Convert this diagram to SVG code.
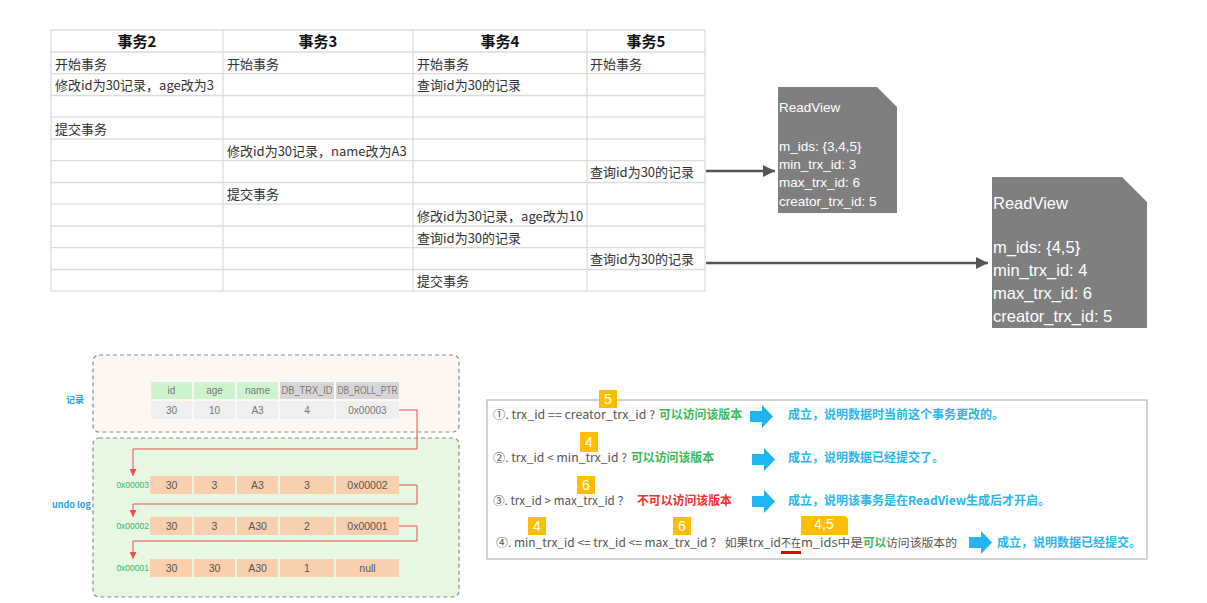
<svg xmlns="http://www.w3.org/2000/svg" xmlns:xlink="http://www.w3.org/1999/xlink" width="1207" height="603" viewBox="0 0 1207 603">
<style>
.grid{stroke:#dcdcdc;stroke-width:1.3;fill:none}
.th{font-family:"Noto Sans CJK SC","Liberation Sans",sans-serif;font-size:15px;font-weight:bold;fill:#111;text-anchor:middle}
.td{font-family:"Noto Sans CJK SC","Liberation Sans",sans-serif;font-size:13px;fill:#333}
.rv{fill:#7f7f7f}
.rvt{font-family:"Liberation Sans","Noto Sans",sans-serif;fill:#fff}
.darr{stroke:#555;stroke-width:2.5;fill:none}
.dash{stroke:#8a8a8a;stroke-width:1.2;stroke-dasharray:4 3}
.cellg{fill:#cdf5cd}
.cellh{fill:#d6d6d6}
.cellr{fill:#efefef}
.cellu{fill:#f9cfad}
.ct{font-family:"Liberation Sans","Noto Sans",sans-serif;font-size:10px;fill:#777;text-anchor:middle}
.cu{font-family:"Liberation Sans","Noto Sans",sans-serif;font-size:10.5px;fill:#555;text-anchor:middle}
.addr{font-family:"Liberation Sans","Noto Sans",sans-serif;font-size:8.5px;fill:#3cb465;text-anchor:end}
.lbl{font-family:"Noto Sans CJK SC","Liberation Sans",sans-serif;font-size:9px;font-weight:bold;fill:#1fa3e8}
.red{stroke:#f24b4b;stroke-width:1;fill:none}
.rt{font-family:"Noto Sans CJK SC","Liberation Sans",sans-serif;font-size:11.5px;fill:#555}
.gr{font-family:"Noto Sans CJK SC",sans-serif;font-size:12px;font-weight:bold;fill:#3cba5a}
.rd{font-family:"Noto Sans CJK SC",sans-serif;font-size:12px;font-weight:bold;fill:#f23030}
.bl{font-family:"Noto Sans CJK SC",sans-serif;font-size:12px;font-weight:bold;fill:#2cb5ef}
.badge{fill:#ffbf00}
.bt{font-family:"Liberation Sans","Noto Sans",sans-serif;font-size:14px;fill:#fff;text-anchor:middle}
.barrow{fill:#1fb4f2}
</style>
<defs>
<marker id="ah" viewBox="0 0 10 10" refX="10" refY="5" markerWidth="5" markerHeight="5" orient="auto" markerUnits="strokeWidth">
<path d="M0,0 L10,5 L0,10 Z" fill="#555"/>
</marker>
<marker id="rah" viewBox="0 0 10 10" refX="10" refY="5" markerWidth="7" markerHeight="7" orient="auto" markerUnits="strokeWidth">
<path d="M0,0 L10,5 L0,10 Z" fill="#f24b4b"/>
</marker>
<path id="blk" d="M0,6 H12 V0 L23,11.5 L12,23 V17 H0 Z"/>
</defs>
<rect width="1207" height="603" fill="#fff"/>

<g id="table">
<g class="grid">
<line x1="51" y1="30" x2="705" y2="30"/>
<line x1="51" y1="52" x2="705" y2="52"/>
<line x1="51" y1="73.7" x2="705" y2="73.7"/>
<line x1="51" y1="95.5" x2="705" y2="95.5"/>
<line x1="51" y1="117.2" x2="705" y2="117.2"/>
<line x1="51" y1="139" x2="705" y2="139"/>
<line x1="51" y1="160.7" x2="705" y2="160.7"/>
<line x1="51" y1="182.5" x2="705" y2="182.5"/>
<line x1="51" y1="204.2" x2="705" y2="204.2"/>
<line x1="51" y1="226" x2="705" y2="226"/>
<line x1="51" y1="247.7" x2="705" y2="247.7"/>
<line x1="51" y1="269.5" x2="705" y2="269.5"/>
<line x1="51" y1="291.2" x2="705" y2="291.2"/>
<line x1="51" y1="30" x2="51" y2="291.2"/>
<line x1="223" y1="30" x2="223" y2="291.2"/>
<line x1="413" y1="30" x2="413" y2="291.2"/>
<line x1="587" y1="30" x2="587" y2="291.2"/>
<line x1="705" y1="30" x2="705" y2="291.2"/>
</g>
<text class="th" x="137" y="47">事务2</text>
<text class="th" x="318" y="47">事务3</text>
<text class="th" x="500" y="47">事务4</text>
<text class="th" x="646" y="47">事务5</text>
<text class="td" x="55" y="68.5">开始事务</text>
<text class="td" x="227" y="68.5">开始事务</text>
<text class="td" x="417" y="68.5">开始事务</text>
<text class="td" x="590" y="68.5">开始事务</text>
<text class="td" x="55" y="90.2">修改id为30记录，age改为3</text>
<text class="td" x="417" y="90.2">查询id为30的记录</text>
<text class="td" x="55" y="133.7">提交事务</text>
<text class="td" x="227" y="155.5">修改id为30记录，name改为A3</text>
<text class="td" x="590" y="177.2">查询id为30的记录</text>
<text class="td" x="227" y="199">提交事务</text>
<text class="td" x="417" y="220.7">修改id为30记录，age改为10</text>
<text class="td" x="417" y="242.5">查询id为30的记录</text>
<text class="td" x="590" y="264.2">查询id为30的记录</text>
<text class="td" x="417" y="286">提交事务</text>
</g>

<g id="readview1">
<path class="rv" d="M778,87 H877 L897,107 V213 H778 Z"/>
<text class="rvt" font-size="13.5" x="779" y="112">ReadView</text>
<text class="rvt" font-size="13.5" x="779" y="151">m_ids: {3,4,5}</text>
<text class="rvt" font-size="13.5" x="779" y="169">min_trx_id: 3</text>
<text class="rvt" font-size="13.5" x="779" y="187">max_trx_id: 6</text>
<text class="rvt" font-size="13.5" x="779" y="206">creator_trx_id: 5</text>
</g>

<g id="readview2">
<path class="rv" d="M992,177 H1122 L1147,202 V328 H992 Z"/>
<text class="rvt" font-size="16.5" x="993" y="209">ReadView</text>
<text class="rvt" font-size="16.5" x="993" y="253">m_ids: {4,5}</text>
<text class="rvt" font-size="16.5" x="993" y="276">min_trx_id: 4</text>
<text class="rvt" font-size="16.5" x="993" y="299">max_trx_id: 6</text>
<text class="rvt" font-size="16.5" x="993" y="322">creator_trx_id: 5</text>
</g>

<g id="record">
<rect x="93" y="355" width="366" height="77" rx="6" fill="#fdf6f1" class="dash"/>
<text class="lbl" x="66" y="403">记录</text>
<rect class="cellg" x="151" y="382" width="41" height="17"/>
<rect class="cellg" x="194" y="382" width="41" height="17"/>
<rect class="cellg" x="237" y="382" width="41" height="17"/>
<rect class="cellh" x="280" y="382" width="54" height="17"/>
<rect class="cellh" x="336" y="382" width="63" height="17"/>
<text class="ct" x="171.5" y="394">id</text>
<text class="ct" x="214.5" y="394">age</text>
<text class="ct" x="257.5" y="394">name</text>
<text class="ct" x="307" y="394" font-size="9.5" textLength="51" lengthAdjust="spacingAndGlyphs">DB_TRX_ID</text>
<text class="ct" x="367.5" y="394" font-size="9.5" textLength="60" lengthAdjust="spacingAndGlyphs">DB_ROLL_PTR</text>
<rect class="cellr" x="151" y="401" width="41" height="18"/>
<rect class="cellr" x="194" y="401" width="41" height="18"/>
<rect class="cellr" x="237" y="401" width="41" height="18"/>
<rect class="cellr" x="280" y="401" width="54" height="18"/>
<rect class="cellr" x="336" y="401" width="63" height="18"/>
<text class="ct" x="171.5" y="414">30</text>
<text class="ct" x="214.5" y="414">10</text>
<text class="ct" x="257.5" y="414">A3</text>
<text class="ct" x="307" y="414">4</text>
<text class="ct" x="367.5" y="414">0x00003</text>
</g>

<g id="undolog">
<rect x="93" y="438" width="366" height="159" rx="6" fill="#e6f8e2" class="dash"/>
<text class="lbl" x="52" y="508" font-size="8.5">undo log</text>
<g id="undo1">
<text class="addr" x="149" y="488">0x00003</text>
<rect class="cellu" x="150" y="476" width="42" height="18"/>
<rect class="cellu" x="194" y="476" width="41" height="18"/>
<rect class="cellu" x="237" y="476" width="41" height="18"/>
<rect class="cellu" x="280" y="476" width="54" height="18"/>
<rect class="cellu" x="336" y="476" width="63" height="18"/>
<text class="cu" x="171.5" y="489">30</text>
<text class="cu" x="214.5" y="489">3</text>
<text class="cu" x="257.5" y="489">A3</text>
<text class="cu" x="307" y="489">3</text>
<text class="cu" x="367.5" y="489">0x00002</text>
</g>
<g id="undo2">
<text class="addr" x="149" y="529">0x00002</text>
<rect class="cellu" x="150" y="517" width="42" height="18"/>
<rect class="cellu" x="194" y="517" width="41" height="18"/>
<rect class="cellu" x="237" y="517" width="41" height="18"/>
<rect class="cellu" x="280" y="517" width="54" height="18"/>
<rect class="cellu" x="336" y="517" width="63" height="18"/>
<text class="cu" x="171.5" y="530">30</text>
<text class="cu" x="214.5" y="530">3</text>
<text class="cu" x="257.5" y="530">A30</text>
<text class="cu" x="307" y="530">2</text>
<text class="cu" x="367.5" y="530">0x00001</text>
</g>
<g id="undo3">
<text class="addr" x="149" y="571">0x00001</text>
<rect class="cellu" x="150" y="559" width="42" height="18"/>
<rect class="cellu" x="194" y="559" width="41" height="18"/>
<rect class="cellu" x="237" y="559" width="41" height="18"/>
<rect class="cellu" x="280" y="559" width="54" height="18"/>
<rect class="cellu" x="336" y="559" width="63" height="18"/>
<text class="cu" x="171.5" y="572">30</text>
<text class="cu" x="214.5" y="572">30</text>
<text class="cu" x="257.5" y="572">A30</text>
<text class="cu" x="307" y="572">1</text>
<text class="cu" x="367.5" y="572">null</text>
</g>
</g>

<g id="rules">
<rect x="487" y="400" width="660" height="159" fill="#fff" stroke="#c4c4c4" stroke-width="1.5"/>
<rect class="badge" x="599" y="390" width="18" height="18"/>
<text class="bt" x="608" y="404">5</text>
<text class="rt" x="493" y="419" textLength="162" lengthAdjust="spacingAndGlyphs">①. trx_id  == creator_trx_id ?</text>
<text class="gr" x="659" y="419" textLength="83" lengthAdjust="spacingAndGlyphs">可以访问该版本</text>
<use href="#blk" class="barrow" x="750" y="405"/>
<text class="bl" x="788" y="419">成立，说明数据时当前这个事务更改的。</text>

<rect class="badge" x="580" y="432" width="18" height="20"/>
<text class="bt" x="589" y="447">4</text>
<text class="rt" x="493" y="462" textLength="134" lengthAdjust="spacingAndGlyphs">②. trx_id &lt; min_trx_id ?</text>
<text class="gr" x="631" y="462" textLength="83" lengthAdjust="spacingAndGlyphs">可以访问该版本</text>
<use href="#blk" class="barrow" x="752" y="448"/>
<text class="bl" x="788" y="462">成立，说明数据已经提交了。</text>

<rect class="badge" x="577" y="476" width="18" height="18"/>
<text class="bt" x="586" y="490">6</text>
<text class="rt" x="493" y="505" textLength="136" lengthAdjust="spacingAndGlyphs">③. trx_id &gt; max_trx_id ？</text>
<text class="rd" x="637" y="505" textLength="95" lengthAdjust="spacingAndGlyphs">不可以访问该版本</text>
<use href="#blk" class="barrow" x="752" y="490"/>
<text class="bl" x="788" y="505">成立，说明该事务是在ReadView生成后才开启。</text>

<rect class="badge" x="528" y="517" width="18" height="18"/>
<text class="bt" x="537" y="531">4</text>
<rect class="badge" x="673" y="517" width="18" height="18"/>
<text class="bt" x="682" y="531">6</text>
<path class="badge" d="M801,516 H845 L848,519 V535 H801 Z"/>
<text class="bt" x="824" y="529" font-size="13.5">4,5</text>
<text class="rt" x="496" y="547" textLength="285" lengthAdjust="spacingAndGlyphs">④. min_trx_id &lt;= trx_id &lt;= max_trx_id ？ 如果trx_id</text>
<text class="rt" x="781" y="547" textLength="20" lengthAdjust="spacingAndGlyphs">不在</text>
<rect x="781" y="551" width="20" height="3" fill="#e60000"/>
<text class="rt" x="801" y="547" textLength="62" lengthAdjust="spacingAndGlyphs">m_ids中是</text>
<text class="gr" x="863" y="547" textLength="23" lengthAdjust="spacingAndGlyphs">可以</text>
<text class="rt" x="886" y="547" textLength="71" lengthAdjust="spacingAndGlyphs">访问该版本的</text>
<use href="#blk" class="barrow" x="969" y="531"/>
<text class="bl" x="997" y="547">成立，说明数据已经提交。</text>
</g>

<g id="connectors">
<line class="darr" x1="706" y1="171" x2="775" y2="171" marker-end="url(#ah)"/>
<line class="darr" x1="706" y1="263" x2="988" y2="263" marker-end="url(#ah)"/>
<path class="red" d="M399,410 H417 V449 H133 V476" marker-end="url(#rah)"/>
<path class="red" d="M399,485 H417 V504 H133 V517" marker-end="url(#rah)"/>
<path class="red" d="M399,526 H417 V541 H133 V559" marker-end="url(#rah)"/>
</g>
</svg>
